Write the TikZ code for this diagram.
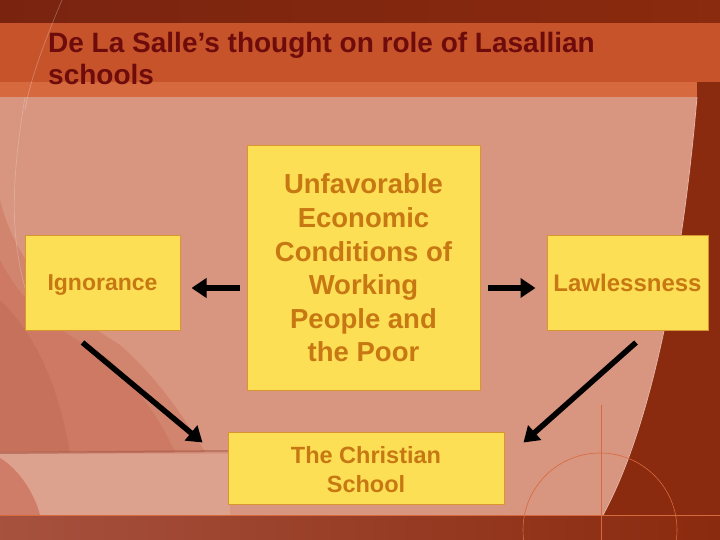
\documentclass[tikz,border=0pt]{standalone}
\usepackage{fontspec}
\setmainfont{Liberation Sans}
\usetikzlibrary{arrows.meta,calc}
\definecolor{bgpink}{HTML}{D8957F}
\definecolor{topdark}{HTML}{7A2410}
\definecolor{titleband}{HTML}{C6532A}
\definecolor{titlelight}{HTML}{D66A3E}
\definecolor{rightdark}{HTML}{8A2A0E}
\definecolor{titletext}{HTML}{6E0C0C}
\definecolor{boxfill}{HTML}{FCDF55}
\definecolor{boxline}{HTML}{D9962F}
\definecolor{boxtext}{HTML}{C77812}
\definecolor{photored}{HTML}{C4604A}
\tikzset{
  boxnode/.style={draw=boxline, line width=1pt, fill=boxfill, text=boxtext,
    font=\bfseries\fontsize{24}{28.8}\selectfont, align=center, inner sep=0pt},
  bigarrow/.style={line width=5.5pt, -{Triangle[width=19pt,length=15pt]}, black}
}
\begin{document}
\begin{tikzpicture}[x=1pt,y=-1pt]
\useasboundingbox (0,0) rectangle (720,540);
% background
\fill[bgpink] (0,0) rectangle (720,540);
% right dark region bounded by a curve
\fill[rightdark] (697,97) .. controls (684,250) and (655,420) .. (603,515) -- (720,515) -- (720,97) -- cycle;
\draw[bgpink!70!white, line width=0.8pt] (697,97) .. controls (684,250) and (655,420) .. (603,515);
% lower-left photo tones
\fill[photored, opacity=0.3] (0,200) .. controls (20,280) and (80,320) .. (120,345)
  .. controls (160,380) and (185,420) .. (205,452) -- (0,452) -- cycle;
\fill[photored, opacity=0.3] (0,260) .. controls (30,320) and (80,340) .. (110,360)
  .. controls (140,390) and (160,420) .. (175,452) -- (0,452) -- cycle;
\fill[photored!85!black, opacity=0.18] (0,300) .. controls (30,330) and (55,370) .. (70,452) -- (0,452) -- cycle;
\fill[bgpink!88!white] (0,454) rectangle (230,515);
\fill[photored, opacity=0.55] (0,458) .. controls (20,470) and (35,495) .. (40,515) -- (0,515) -- cycle;
\draw[photored!75!black, opacity=0.4, line width=2pt] (0,453) -- (230,451);
% large faint arc on the left
\draw[white, opacity=0.2, line width=0.8pt] (25,97) .. controls (8,200) and (10,260) .. (40,330);
% top bands
\fill[left color=topdark, right color=rightdark] (0,0) rectangle (720,23);
\fill[titleband] (0,23) rectangle (720,82);
\fill[titlelight] (0,82) rectangle (697,97);
\fill[rightdark] (697,82) rectangle (720,97);
\draw[white, opacity=0.3, line width=0.6pt] (62,0) .. controls (45,40) and (30,80) .. (25,110);
% bottom band
\fill[left color=photored!85!black, right color=rightdark] (0,515) rectangle (720,540);
\draw[titlelight, line width=0.7pt] (0,515) -- (720,515);
\begin{scope}
\clip (500,440) rectangle (720,540);
\draw[titlelight, line width=0.6pt] (600,530) circle (77);
\end{scope}
\draw[titlelight, line width=0.6pt] (601,405) -- (601,540);
% title
\node[anchor=north west, text=titletext, font=\bfseries\fontsize{28}{32}\selectfont, align=left, inner sep=0pt]
  (title) at (48,32) {De La Salle’s thought on role of Lasallian\\schools};
% boxes
\node[boxnode, minimum width=155pt, minimum height=95pt,
  font=\bfseries\fontsize{23}{27.6}\selectfont] (ig) at (102.5,282.5)
  {\raisebox{-3pt}[\height][\depth]{Ignorance}};
\node[boxnode, minimum width=233pt, minimum height=245pt,
  font=\bfseries\fontsize{27.5}{33.6}\selectfont] (c) at (363.5,268)
  {Unfavorable\\Economic\\Conditions of\\Working\\People and\\the Poor};
\node[boxnode, minimum width=161pt, minimum height=95pt] (law) at (627.5,282.5) {Lawlessness};
\node[boxnode, minimum width=276pt, minimum height=72pt,
  font=\bfseries\fontsize{23.5}{29}\selectfont] (cs) at (366,468)
  {\raisebox{-4pt}[\height][\depth]{\begin{tabular}{@{}c@{}}The Christian\\School\end{tabular}}};
% arrows
\coordinate (lvl) at (0,288);
\draw[bigarrow] ($(c.west |- lvl)+(-7,0)$) -- ($(ig.east |- lvl)+(11,0)$);
\draw[bigarrow] ($(c.east |- lvl)+(7,0)$) -- ($(law.west |- lvl)+(-11,0)$);
\draw[bigarrow] ($(ig.south)+(-20,12)$) -- ($(cs.north west)+(-25,11)$);
\draw[bigarrow] ($(law.south)+(8.5,12)$) -- ($(cs.north east)+(19,11)$);
\end{tikzpicture}
\end{document}
